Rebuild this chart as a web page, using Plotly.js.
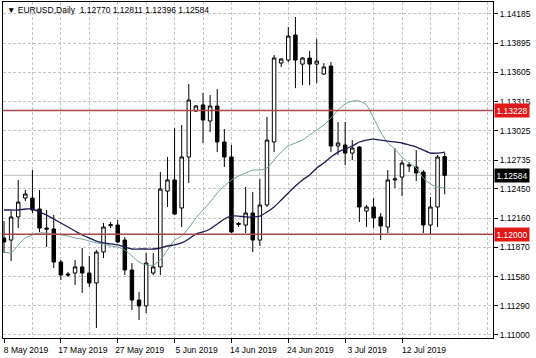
<!DOCTYPE html>
<html>
<head>
<meta charset="utf-8">
<script src="https://cdn.plot.ly/plotly-3.0.1.min.js"></script>
<style>
html,body{margin:0;padding:0;background:#fff;}
#chart{width:536px;height:358px;}
</style>
</head>
<body>
<div id="chart"></div>
<script>
const symbol = 'EURUSD,Daily';
const dates = [
'8 May 2019','9 May 2019','10 May 2019','12 May 2019','13 May 2019','14 May 2019','15 May 2019','16 May 2019',
'17 May 2019','19 May 2019','20 May 2019','21 May 2019','22 May 2019','23 May 2019','24 May 2019','26 May 2019',
'27 May 2019','28 May 2019','29 May 2019','30 May 2019','31 May 2019','2 Jun 2019','3 Jun 2019','4 Jun 2019',
'5 Jun 2019','6 Jun 2019','7 Jun 2019','9 Jun 2019','10 Jun 2019','11 Jun 2019','12 Jun 2019','13 Jun 2019',
'14 Jun 2019','16 Jun 2019','17 Jun 2019','18 Jun 2019','19 Jun 2019','20 Jun 2019','21 Jun 2019','23 Jun 2019',
'24 Jun 2019','25 Jun 2019','26 Jun 2019','27 Jun 2019','28 Jun 2019','30 Jun 2019','1 Jul 2019','2 Jul 2019',
'3 Jul 2019','4 Jul 2019','5 Jul 2019','7 Jul 2019','8 Jul 2019','9 Jul 2019','10 Jul 2019','11 Jul 2019',
'12 Jul 2019','14 Jul 2019','15 Jul 2019','16 Jul 2019','17 Jul 2019','18 Jul 2019','19 Jul 2019'
];
const openP = [
1.11962,1.11942,1.12171,1.12359,1.12359,1.12250,1.12061,1.12052,
1.11724,1.11605,1.11615,1.11675,1.11615,1.11516,1.11823,1.12085,
1.12091,1.11942,1.11645,1.11347,1.11288,1.11615,1.11675,1.12428,
1.12538,1.12260,1.12766,1.13222,1.13282,1.13123,1.13272,1.12915,
1.12766,1.12096,1.12091,1.12210,1.11942,1.12290,1.12915,1.13698,
1.13728,1.13976,1.13688,1.13748,1.13688,1.13589,1.13668,1.12875,
1.12885,1.12805,1.12865,1.12230,1.12270,1.12171,1.12071,1.12538,
1.12567,1.12676,1.12667,1.12617,1.12091,1.12270,1.12770
];
const highP = [
1.12131,1.12230,1.12538,1.12438,1.12637,1.12438,1.12240,1.12190,
1.11744,1.11625,1.11744,1.11863,1.11784,1.11843,1.12111,1.12121,
1.12141,1.11972,1.11714,1.11427,1.11813,1.11813,1.12617,1.12766,
1.13053,1.13083,1.13490,1.13282,1.13401,1.13381,1.13440,1.13044,
1.12885,1.12121,1.12468,1.12419,1.12548,1.13163,1.13778,1.13748,
1.14055,1.14155,1.13758,1.13817,1.13936,1.13698,1.13708,1.13113,
1.13113,1.12934,1.12875,1.12290,1.12359,1.12210,1.12637,1.12855,
1.12736,1.12716,1.12835,1.12637,1.12369,1.12786,1.12811
];
const lowP = [
1.11813,1.11734,1.12061,1.12329,1.12210,1.12022,1.11873,1.11665,
1.11546,1.11575,1.11496,1.11417,1.11476,1.11069,1.11764,1.12061,
1.11913,1.11595,1.11248,1.11149,1.11218,1.11595,1.11595,1.12270,
1.12190,1.12071,1.12508,1.13212,1.12905,1.13014,1.12815,1.12667,
1.12012,1.12071,1.12012,1.11823,1.11883,1.12270,1.12815,1.13659,
1.13708,1.13450,1.13480,1.13480,1.13500,1.13579,1.12815,1.12786,
1.12686,1.12736,1.12121,1.12071,1.12061,1.11942,1.12012,1.12458,
1.12379,1.12617,1.12528,1.12012,1.12002,1.12071,1.12396
];
const closeP = [
1.11923,1.12171,1.12319,1.12399,1.12240,1.12061,1.12051,1.11724,
1.11595,1.11595,1.11675,1.11615,1.11516,1.11823,1.12071,1.12095,
1.11923,1.11645,1.11347,1.11288,1.11714,1.11675,1.12448,1.12538,
1.12200,1.12766,1.13331,1.13272,1.13133,1.13272,1.12915,1.12766,
1.12022,1.12106,1.12210,1.11942,1.12290,1.12934,1.13748,1.13738,
1.13966,1.13728,1.13748,1.13688,1.13718,1.13659,1.12875,1.12905,
1.12805,1.12855,1.12270,1.12270,1.12161,1.12081,1.12538,1.12548,
1.12706,1.12686,1.12607,1.12091,1.12270,1.12766,1.12584
];
const maSlow = [
1.12240,1.12240,1.12240,1.12250,1.12250,1.12220,1.12190,1.12151,
1.12111,1.12071,1.12032,1.11992,1.11962,1.11932,1.11913,1.11903,
1.11893,1.11873,1.11853,1.11853,1.11853,1.11853,1.11863,1.11883,
1.11893,1.11913,1.11952,1.12002,1.12022,1.12052,1.12101,1.12151,
1.12180,1.12180,1.12171,1.12171,1.12180,1.12220,1.12270,1.12339,
1.12409,1.12478,1.12538,1.12587,1.12657,1.12706,1.12766,1.12815,
1.12845,1.12875,1.12915,1.12934,1.12944,1.12934,1.12924,1.12915,
1.12905,1.12885,1.12865,1.12835,1.12805,1.12805,1.12815
];
const maFast = [
1.11823,1.11813,1.11893,1.11962,1.11992,1.12012,1.12012,1.12002,
1.11992,1.11982,1.11962,1.11952,1.11932,1.11913,1.11903,1.11883,
1.11873,1.11843,1.11784,1.11724,1.11694,1.11694,1.11744,1.11843,
1.11942,1.11982,1.12061,1.12161,1.12240,1.12319,1.12409,1.12478,
1.12538,1.12577,1.12607,1.12637,1.12637,1.12657,1.12736,1.12815,
1.12875,1.12905,1.12934,1.12984,1.13034,1.13083,1.13153,1.13232,
1.13292,1.13321,1.13321,1.13282,1.13153,1.13014,1.12905,1.12845,
1.12766,1.12706,1.12657,1.12558,1.12498,1.12468,1.12458
];
const tickDates = ['8 May 2019','17 May 2019','27 May 2019','5 Jun 2019','14 Jun 2019','24 Jun 2019','3 Jul 2019','12 Jul 2019'];
const priceTicks = [1.11000,1.11290,1.11580,1.11870,1.12160,1.12450,1.12735,1.13025,1.13315,1.13605,1.13895,1.14185];
const levelLines = [1.13228, 1.12000];
const bidPrice = 1.12584;

const idx = dates.map((d, i) => i);
const tickIdx = tickDates.map(d => dates.indexOf(d));
const last = dates.length - 1;
const FONT = 'Liberation Sans, Arial, sans-serif';

const traces = [
  {
    type: 'candlestick', x: idx, open: openP, high: highP, low: lowP, close: closeP,
    increasing: {line: {color: '#000000', width: 1}, fillcolor: '#ffffff'},
    decreasing: {line: {color: '#000000', width: 1}, fillcolor: '#000000'},
    whiskerwidth: 0, showlegend: false, hoverinfo: 'skip'
  },
  {
    type: 'scatter', mode: 'lines', x: idx, y: maFast,
    line: {color: '#6f9f95', width: 1, shape: 'spline', smoothing: 0.6},
    showlegend: false, hoverinfo: 'skip'
  },
  {
    type: 'scatter', mode: 'lines', x: idx, y: maSlow,
    line: {color: '#1c1c50', width: 1.3, shape: 'spline', smoothing: 0.6},
    showlegend: false, hoverinfo: 'skip'
  }
];

const shapes = [
  {type: 'line', xref: 'paper', x0: 0, x1: 1, yref: 'y', y0: bidPrice, y1: bidPrice,
   line: {color: '#c0c0c0', width: 1}, layer: 'below'}
].concat(levelLines.map(v => ({
  type: 'line', xref: 'paper', x0: 0, x1: 1, yref: 'y', y0: v, y1: v,
  line: {color: '#a84848', width: 1.5}, layer: 'above'
})));

const annotations = [
  {xref: 'paper', yref: 'paper', x: 0, y: 1, xanchor: 'left', yanchor: 'top', xshift: 2, yshift: -1,
   showarrow: false, align: 'left',
   text: '▼ ' + symbol + '  ' + [openP[last], highP[last], lowP[last], closeP[last]].map(v => v.toFixed(5)).join(' '),
   font: {family: FONT, size: 8.5, color: '#000'}}
].concat(levelLines.map(v => ({
  xref: 'paper', yref: 'y', x: 1, y: v, xanchor: 'left', yanchor: 'middle', xshift: 1,
  showarrow: false, text: v.toFixed(5), bgcolor: '#e01818', borderpad: 1.5,
  font: {family: FONT, size: 8.5, color: '#ffffff'}
}))).concat([{
  xref: 'paper', yref: 'y', x: 1, y: bidPrice, xanchor: 'left', yanchor: 'middle', xshift: 1,
  showarrow: false, text: bidPrice.toFixed(5), bgcolor: '#000000', borderpad: 1.5,
  font: {family: FONT, size: 8.5, color: '#ffffff'}
}]);

const layout = {
  width: 536, height: 358,
  margin: {l: 3, r: 43, t: 2, b: 20, pad: 0},
  paper_bgcolor: '#ffffff', plot_bgcolor: '#ffffff',
  showlegend: false,
  xaxis: {
    type: 'linear', range: [-0.14, 68.8], fixedrange: true,
    rangeslider: {visible: false},
    tickmode: 'array', tickvals: tickIdx, ticktext: tickDates,
    ticks: 'outside', ticklen: 4, tickcolor: '#000', ticklabelshift: 22, ticklabelstandoff: 0,
    tickfont: {family: FONT, size: 8.5, color: '#000'},
    showline: true, linecolor: '#000', linewidth: 1, mirror: true,
    showgrid: true, gridcolor: '#c4c4c4', griddash: '3px,2px', gridwidth: 1,
    minor: {tickmode: 'linear', tick0: 0, dtick: 4, showgrid: true, gridcolor: '#c4c4c4', griddash: '3px,2px', ticks: ''},
    zeroline: false
  },
  yaxis: {
    side: 'right', range: [1.10970, 1.14304], fixedrange: true,
    tickmode: 'array', tickvals: priceTicks, ticktext: priceTicks.map(v => v.toFixed(5)),
    ticks: 'outside', ticklen: 4, tickcolor: '#000',
    tickfont: {family: FONT, size: 8.5, color: '#000'},
    showline: true, linecolor: '#000', linewidth: 1, mirror: true,
    showgrid: true, gridcolor: '#c4c4c4', griddash: '3px,2px', gridwidth: 1,
    zeroline: false
  },
  shapes: shapes,
  annotations: annotations
};

Plotly.newPlot('chart', traces, layout, {staticPlot: true, displayModeBar: false});
</script>
</body>
</html>
